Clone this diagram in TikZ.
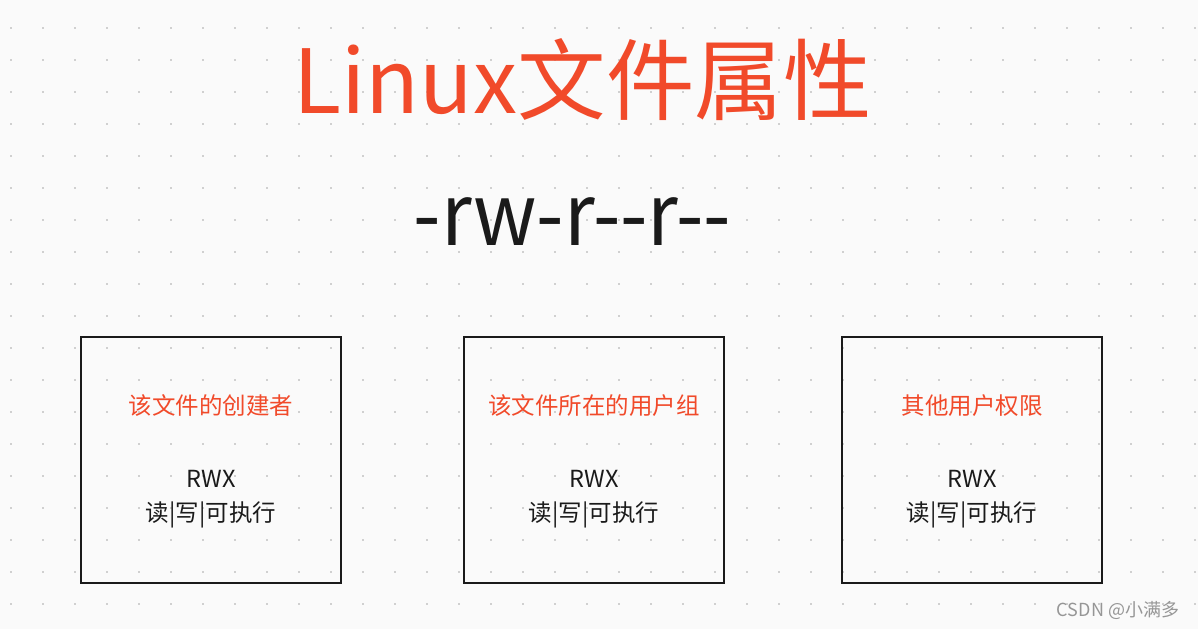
\documentclass[tikz,border=0pt]{standalone}
\usepackage{fontspec}
\setmainfont{Noto Sans CJK SC}
\definecolor{bgcol}{RGB}{250,250,250}
\definecolor{dotcol}{RGB}{208,208,208}
\definecolor{redcol}{RGB}{241,74,42}
\definecolor{inkcol}{RGB}{26,26,26}
\definecolor{wmcol}{RGB}{150,150,150}
\tikzset{
  permbox/.style={draw=inkcol, line width=2pt},
  titletext/.style={text=redcol, font=\fontsize{88.5}{100}\selectfont, inner sep=0pt, anchor=base},
  permtext/.style={text=inkcol, font=\fontsize{86}{96}\selectfont, inner sep=0pt, anchor=base},
  headtext/.style={text=redcol, font=\fontsize{23.5}{28}\selectfont, inner sep=0pt},
  bodytext/.style={text=inkcol, font=\fontsize{23.5}{28}\selectfont, inner sep=0pt},
  wmtext/.style={text=wmcol, font=\fontsize{18}{20}\selectfont, inner sep=0pt},
}
\begin{document}
\begin{tikzpicture}[x=1pt,y=-1pt]
\fill[bgcol] (0,0) rectangle (1198,629);
\useasboundingbox (0,0) rectangle (1198,629);
\foreach \i in {0,...,37} {
  \foreach \j in {0,...,19} {
    \fill[dotcol] ({10+32*\i},{27+32*\j}) rectangle ++(2,2);
  }
}
\node[titletext] (title) at (582.5,113) {Linux文件属性};
\node[permtext] (perm) at (572.5,245) {\scalebox{0.92}[1]{-rw-r-{}-r-{}-}};

\draw[permbox] (81,336.5) rectangle (340.5,583);
\draw[permbox] (464,336.5) rectangle (723.5,583);
\draw[permbox] (842,336.5) rectangle (1101.5,583);

\node[headtext] (h1) at (211,406) {该文件的创建者};
\node[bodytext] (r1) at (211,478.5) {RWX};
\node[bodytext] (d1) at (211,515) {读|写|可执行};

\node[headtext] (h2) at (594,406) {该文件所在的用户组};
\node[bodytext] (r2) at (594,478.5) {RWX};
\node[bodytext] (d2) at (594,515) {读|写|可执行};

\node[headtext] (h3) at (972,406) {其他用户权限};
\node[bodytext] (r3) at (972,478.5) {RWX};
\node[bodytext] (d3) at (972,515) {读|写|可执行};

\node[wmtext] (wm) at (1118,610) {CSDN @小满多};
\end{tikzpicture}
\end{document}
